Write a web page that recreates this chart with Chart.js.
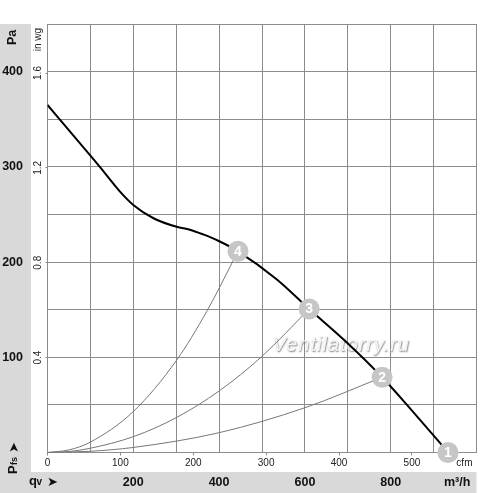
<!DOCTYPE html>
<html><head><meta charset="utf-8">
<style>html,body{margin:0;padding:0;background:#fff}canvas{display:block}</style>
<script src="https://cdn.jsdelivr.net/npm/chart.js@4"></script>
</head><body><canvas id="c" width="500" height="493"></canvas>
<script>
// Fan curve, x in m3/h, y in Pa
const fanX = [0,60,122,169,200,247,301,332,363,398,444,534,610,699,780,845,934];
const fanY = [365,333,300,274,260,246,237,234,229,222.4,211.3,182,150.7,115,79,46.4,0];
const sys4X = [0,50,99,200,301,371,444];
const sys4Y = [0,2.7,10.7,43,97,148,211.3];
const sys3X = [0,50,99,200,301,400,499,610];
const sys3Y = [0,1,4.4,16.6,36.8,64.6,100.6,150.7];
const sys2X = [0,100,200,400,600,780];
const sys2Y = [0,1.3,5.3,20.8,47,79];
const markerX = [933.5,780,610,444];
const markerY = [0,79,150.7,211.3];
const markerLabels = ['1','2','3','4'];
const qvTicks = [0,100,200,300,400,500,600,700,800,900,1000];
const qvLabels = [200,400,600,800];
const paTicks = [0,50,100,150,200,250,300,350,400,450];
const paLabels = [100,200,300,400];
const cfmTicks = [0,100,200,300,400,500];
const wgTicks = [0.4,0.8,1.2,1.6];
const UNIT_QV = 955, UNIT_CFM = 572, UNIT_WG = 1.741, UNIT_PA = 436;

const FONT = '"Liberation Sans", Arial, sans-serif';
const GRID = '#8c8c8c';
const zip = (xs,ys)=>xs.map((x,i)=>({x,y:ys[i]}));
const transparentFor = u => ctx => ctx.tick && ctx.tick.value === u ? 'rgba(0,0,0,0)' : GRID;

const decor = {
  id:'decor',
  beforeDraw(ch){
    const c=ch.ctx, a=ch.chartArea;
    c.save();
    c.fillStyle='#fff'; c.fillRect(0,0,ch.width,ch.height);
    c.fillStyle='#d9d9d9';
    c.fillRect(0,a.top,ch.scales.y.right,ch.height-a.top);
    c.fillRect(0,ch.scales.x.top,a.right,ch.height-ch.scales.x.top);
    c.restore();
  },
  beforeDatasetsDraw(ch){
    const c=ch.ctx;
    c.save();
    c.font='italic 20px "Liberation Sans", Arial, sans-serif';
    c.textAlign='left'; c.textBaseline='middle';
    if('letterSpacing' in c) c.letterSpacing='1px';
    c.shadowColor='rgba(90,90,90,.8)'; c.shadowBlur=1.5; c.shadowOffsetX=.6; c.shadowOffsetY=.6;
    c.fillStyle='#f4f4f4';
    c.fillText('Ventilatorry.ru',ch.scales.x.getPixelForValue(525),ch.scales.y.getPixelForValue(112));
    c.restore();
  },
  afterDraw(ch){
    const c=ch.ctx, m=ch.getDatasetMeta(0);
    c.save();
    c.fillStyle='#fff'; c.textAlign='center'; c.textBaseline='middle';
    c.font='bold 14px '+FONT;
    m.data.forEach((p,i)=>c.fillText(markerLabels[i],p.x,p.y+.5));
    c.fillStyle='#111';
    // Pa unit
    c.save();
    c.translate(12.5,ch.scales.y.getPixelForValue(UNIT_PA));
    c.rotate(-Math.PI/2);
    c.font='bold 12.5px '+FONT; c.fillText('Pa',0,0);
    c.restore();
    // qv
    c.textAlign='left'; c.textBaseline='alphabetic';
    c.font='bold 13px '+FONT; c.fillText('q',29,485);
    c.font='bold 10px '+FONT; c.fillText('v',36.5,485);
    c.font='13px "DejaVu Sans"'; c.fillText('\u27A4',47,486);
    // Pfs
    c.save();
    c.translate(16.5,474); c.rotate(-Math.PI/2);
    c.font='bold 13px '+FONT; c.fillText('P',0,0);
    c.font='bold 9px '+FONT; c.fillText('fs',9,0);
    c.font='13px "DejaVu Sans"'; c.fillText('\u27A4',21,1);
    c.restore();
    c.restore();
  }
};

new Chart(document.getElementById('c'),{
  type:'scatter',
  plugins:[decor],
  data:{datasets:[
    {label:'Points',data:zip(markerX,markerY),pointRadius:10.5,pointHoverRadius:10.5,pointBackgroundColor:'#c6c6c6',pointBorderWidth:0,showLine:false,clip:false},
    {label:'Fan',data:zip(fanX,fanY),showLine:true,borderColor:'#000',borderWidth:2,pointRadius:0,cubicInterpolationMode:'monotone'},
    {label:'S4',data:zip(sys4X,sys4Y),showLine:true,borderColor:'#777',borderWidth:1,pointRadius:0,cubicInterpolationMode:'monotone'},
    {label:'S3',data:zip(sys3X,sys3Y),showLine:true,borderColor:'#777',borderWidth:1,pointRadius:0,cubicInterpolationMode:'monotone'},
    {label:'S2',data:zip(sys2X,sys2Y),showLine:true,borderColor:'#777',borderWidth:1,pointRadius:0,cubicInterpolationMode:'monotone'}
  ]},
  options:{
    responsive:false,animation:false,devicePixelRatio:1,
    layout:{padding:{top:24,right:23.5,left:0,bottom:0}},
    plugins:{legend:{display:false},tooltip:{enabled:false}},
    scales:{
      x:{type:'linear',position:'bottom',weight:2,min:0,max:1000,
        border:{display:false},
        grid:{color:transparentFor(UNIT_QV),lineWidth:1,drawTicks:false},
        afterBuildTicks:ax=>{ax.ticks=qvTicks.concat(UNIT_QV).map(value=>({value}));},
        afterFit:ax=>{ax.height=21;},
        ticks:{autoSkip:false,maxRotation:0,padding:3,color:'#111',font:{family:FONT,size:12.5,weight:'bold'},
          callback:v=>v===UNIT_QV?'m³/h':(qvLabels.includes(v)?String(v):'')}
      },
      xCfm:{type:'linear',position:'bottom',weight:1,min:0,max:588.6,
        border:{display:false},
        grid:{drawOnChartArea:false,drawTicks:true,tickLength:3,color:transparentFor(UNIT_CFM),tickColor:transparentFor(UNIT_CFM)},
        afterBuildTicks:ax=>{ax.ticks=cfmTicks.concat(UNIT_CFM).map(value=>({value}));},
        afterFit:ax=>{ax.height=19.5;},
        ticks:{autoSkip:false,maxRotation:0,padding:2,color:'#222',font:{family:FONT,size:10},
          callback:v=>v===UNIT_CFM?'cfm':String(v)}
      },
      y:{type:'linear',position:'left',weight:2,min:0,max:450,
        border:{display:false},
        grid:{color:GRID,lineWidth:1,drawTicks:false},
        afterBuildTicks:ax=>{ax.ticks=paTicks.map(value=>({value}));},
        afterFit:ax=>{ax.width=31;},
        ticks:{autoSkip:false,crossAlign:'center',padding:8,color:'#111',font:{family:FONT,size:12.5,weight:'bold'},
          callback:v=>paLabels.includes(v)?String(v):''}
      },
      yWg:{type:'linear',position:'left',weight:1,min:0,max:1.8066,
        border:{display:false},
        grid:{drawOnChartArea:false,drawTicks:true,tickLength:2,color:transparentFor(UNIT_WG),tickColor:transparentFor(UNIT_WG)},
        afterBuildTicks:ax=>{ax.ticks=wgTicks.concat(UNIT_WG).map(value=>({value}));},
        afterFit:ax=>{ax.width=16.5;},
        ticks:{autoSkip:false,minRotation:90,maxRotation:90,crossAlign:'center',padding:-4.5,color:'#222',font:{family:FONT,size:10},
          callback:v=>v===UNIT_WG?'in wg':v.toFixed(1)}
      }
    }
  }
});
</script></body></html>
